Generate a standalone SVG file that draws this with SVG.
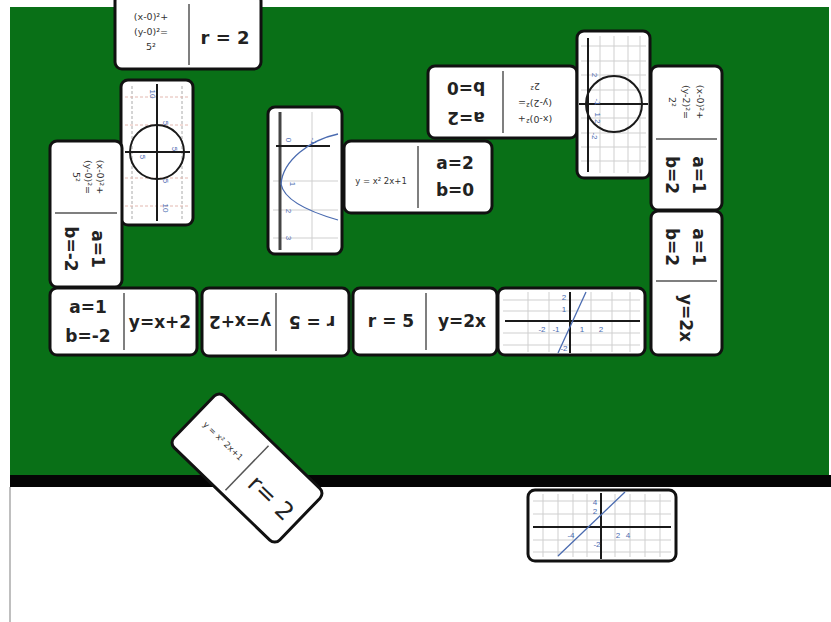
<svg xmlns="http://www.w3.org/2000/svg" width="831" height="622" viewBox="0 0 831 622">
<defs>
<style>
.dom{fill:#fff;stroke:#111;stroke-width:3}
.dv{stroke:#555;stroke-width:1.5}
.t{font-family:"DejaVu Sans","Open Sans",sans-serif;font-weight:700;fill:#222;text-anchor:middle}
.b{font-size:17px}
.f{font-size:9.5px;font-weight:400;fill:#333}
.gr{stroke:#cfcfcf;stroke-width:1}
.gp{stroke:#e3b8b0;stroke-width:1;stroke-dasharray:3 2}
.gd{stroke:#aaa;stroke-width:1;stroke-dasharray:3 2}
.ax{stroke:#1a1a1a;stroke-width:2}
.cur{stroke:#4a6bb0;stroke-width:1.3;fill:none}
.ring{stroke:#1a1a1a;stroke-width:2;fill:none}
.l{font-family:"Liberation Sans",Arial,sans-serif;font-size:8px;fill:#4a6bb0;text-anchor:middle}
</style>
</defs>
<rect x="0" y="0" width="831" height="622" fill="#fff"/>
<rect x="10" y="7" width="819" height="468" fill="#097017"/>
<rect x="10" y="475" width="821" height="12" fill="#050505"/>
<line x1="10" y1="487" x2="10" y2="622" stroke="#aaa" stroke-width="1.5"/>

<g id="d1">
<rect class="dom" x="115" y="-6" width="146" height="75" rx="7"/>
<line class="dv" x1="189" y1="4" x2="189" y2="65"/>
<text class="t f" x="151" y="20">(x-0)²+</text>
<text class="t f" x="151" y="35">(y-0)²=</text>
<text class="t f" x="151" y="50">5²</text>
<text class="t" style="font-size:18px" x="225" y="44">r = 2</text>
</g>

<g id="d2">
<rect class="dom" x="121" y="80" width="72" height="145" rx="7"/>
<line class="gd" x1="132" y1="86" x2="132" y2="219"/>
<line class="gd" x1="182" y1="86" x2="182" y2="219"/>
<line class="gp" x1="125" y1="97" x2="190" y2="97"/>
<line class="gp" x1="125" y1="125" x2="190" y2="125"/>
<line class="gp" x1="125" y1="178" x2="190" y2="178"/>
<line class="gp" x1="125" y1="206" x2="190" y2="206"/>
<line class="ax" x1="157" y1="84" x2="157" y2="221"/>
<line class="ax" x1="125" y1="152" x2="190" y2="152"/>
<circle class="ring" cx="157" cy="152" r="27"/>
<text class="l" transform="translate(150,94) rotate(90)">10</text>
<text class="l" transform="translate(163,123) rotate(90)">5</text>
<text class="l" transform="translate(172,149) rotate(90)">5</text>
<text class="l" transform="translate(140,157) rotate(90)">5</text>
<text class="l" transform="translate(163,181) rotate(90)">5</text>
<text class="l" transform="translate(163,208) rotate(90)">10</text>
</g>

<g id="d3">
<rect class="dom" x="50" y="141" width="72" height="146" rx="7"/>
<line class="dv" x1="55" y1="213" x2="117" y2="213"/>
<g transform="translate(88,177) rotate(90)">
<text class="t f" x="0" y="-9">(x-0)²+</text>
<text class="t f" x="0" y="3">(y-0)²=</text>
<text class="t f" x="0" y="15">5²</text>
</g>
<g transform="translate(86,249) rotate(90)">
<text class="t b" x="0" y="-6">a=1</text>
<text class="t b" x="0" y="21">b=-2</text>
</g>
</g>

<g id="d4">
<rect class="dom" x="268" y="107" width="74" height="147" rx="7"/>
<line class="gr" x1="312" y1="112" x2="312" y2="250"/>
<line class="gr" x1="273" y1="181" x2="338" y2="181"/>
<line class="gr" x1="273" y1="210" x2="338" y2="210"/>
<line class="gr" x1="273" y1="238" x2="338" y2="238"/>
<line x1="280" y1="112" x2="280" y2="250" stroke="#444" stroke-width="3"/>
<line class="ax" x1="276" y1="146" x2="330" y2="146"/>
<path class="cur" d="M338,134 C310,140 283,160 281,184 C284,200 310,212 338,220"/>
<text class="l" transform="translate(286,140) rotate(90)">0</text>
<text class="l" transform="translate(311,141) rotate(90)">-1</text>
<text class="l" transform="translate(290,184) rotate(90)">1</text>
<text class="l" transform="translate(286,211) rotate(90)">2</text>
<text class="l" transform="translate(286,238) rotate(90)">3</text>
</g>

<g id="d5">
<rect class="dom" x="344" y="141" width="148" height="72" rx="7"/>
<line class="dv" x1="418" y1="146" x2="418" y2="208"/>
<text class="t f" style="font-size:8.5px" x="381" y="184">y = x² 2x+1</text>
<text class="t b" x="455" y="169">a=2</text>
<text class="t b" x="455" y="196">b=0</text>
</g>

<g id="d6" transform="rotate(180,502.5,102)">
<rect class="dom" x="428" y="66" width="149" height="72" rx="7"/>
<line class="dv" x1="502" y1="71" x2="502" y2="133"/>
<text class="t f" x="470" y="88">(x-0)²+</text>
<text class="t f" x="470" y="104">(y-2)²=</text>
<text class="t f" x="470" y="121">2²</text>
<text class="t b" x="539" y="92">a=2</text>
<text class="t b" x="539" y="122">b=0</text>
</g>

<g id="d7">
<rect class="dom" x="577" y="31" width="73" height="147" rx="7"/>
<line class="gr" x1="600" y1="36" x2="600" y2="173"/>
<line class="gr" x1="614" y1="36" x2="614" y2="173"/>
<line class="gr" x1="628" y1="36" x2="628" y2="173"/>
<line class="gr" x1="640" y1="36" x2="640" y2="173"/>
<line class="gr" x1="581" y1="46" x2="646" y2="46"/>
<line class="gr" x1="581" y1="61" x2="646" y2="61"/>
<line class="gr" x1="581" y1="75" x2="646" y2="75"/>
<line class="gr" x1="581" y1="90" x2="646" y2="90"/>
<line class="gr" x1="581" y1="118" x2="646" y2="118"/>
<line class="gr" x1="581" y1="133" x2="646" y2="133"/>
<line class="gr" x1="581" y1="147" x2="646" y2="147"/>
<line class="gr" x1="581" y1="161" x2="646" y2="161"/>
<line class="ax" x1="588" y1="38" x2="588" y2="172"/>
<line class="ax" x1="579" y1="104" x2="648" y2="104"/>
<circle class="ring" cx="614" cy="104" r="28"/>
<text class="l" transform="translate(592,75) rotate(90)">2</text>
<text class="l" transform="translate(592,136) rotate(90)">-2</text>
<text class="l" transform="translate(595,102) rotate(90)">-1</text>
<text class="l" transform="translate(595,118) rotate(90)">1 2</text>
</g>

<g id="d8">
<rect class="dom" x="651" y="66" width="71" height="144" rx="7"/>
<line class="dv" x1="656" y1="139" x2="717" y2="139"/>
<g transform="translate(686,102) rotate(90)">
<text class="t f" x="0" y="-11">(x-0)²+</text>
<text class="t f" x="0" y="3">(y-2)²=</text>
<text class="t f" x="0" y="17">2²</text>
</g>
<g transform="translate(686,175) rotate(90)">
<text class="t b" x="0" y="-7">a=1</text>
<text class="t b" x="0" y="20">b=2</text>
</g>
</g>

<g id="d9">
<rect class="dom" x="651" y="211" width="71" height="144" rx="7"/>
<line class="dv" x1="656" y1="281" x2="717" y2="281"/>
<g transform="translate(686,247) rotate(90)">
<text class="t b" x="0" y="-7">a=1</text>
<text class="t b" x="0" y="20">b=2</text>
</g>
<text class="t b" transform="translate(686,318) rotate(90)" x="0" y="6">y=2x</text>
</g>

<g id="d10">
<rect class="dom" x="50" y="288" width="147" height="67" rx="7"/>
<line class="dv" x1="124" y1="293" x2="124" y2="350"/>
<text class="t b" x="88" y="313">a=1</text>
<text class="t b" x="88" y="342">b=-2</text>
<text class="t b" x="160" y="328">y=x+2</text>
</g>

<g id="d11" transform="rotate(180,275.5,322)">
<rect class="dom" x="202" y="288" width="147" height="68" rx="7"/>
<line class="dv" x1="275" y1="293" x2="275" y2="351"/>
<text class="t b" x="239" y="328">r = 5</text>
<text class="t b" x="311" y="328">y=x+2</text>
</g>

<g id="d12">
<rect class="dom" x="353" y="288" width="144" height="67" rx="7"/>
<line class="dv" x1="426" y1="293" x2="426" y2="350"/>
<text class="t b" x="391" y="327">r = 5</text>
<text class="t b" x="462" y="327">y=2x</text>
</g>

<g id="d13">
<rect class="dom" x="498" y="288" width="147" height="67" rx="7"/>
<line class="gr" x1="528" y1="292" x2="528" y2="352"/>
<line class="gr" x1="549" y1="292" x2="549" y2="352"/>
<line class="gr" x1="591" y1="292" x2="591" y2="352"/>
<line class="gr" x1="612" y1="292" x2="612" y2="352"/>
<line class="gr" x1="630" y1="292" x2="630" y2="352"/>
<line class="gr" x1="503" y1="300" x2="640" y2="300"/>
<line class="gr" x1="503" y1="311" x2="640" y2="311"/>
<line class="gr" x1="503" y1="333" x2="640" y2="333"/>
<line class="gr" x1="503" y1="345" x2="640" y2="345"/>
<line class="ax" x1="505" y1="321" x2="640" y2="321"/>
<line class="ax" x1="570" y1="292" x2="570" y2="353"/>
<line class="cur" x1="558" y1="353" x2="586" y2="292"/>
<text class="l" x="564" y="300">2</text>
<text class="l" x="564" y="312">1</text>
<text class="l" x="542" y="332">-2</text>
<text class="l" x="556" y="332">-1</text>
<text class="l" x="582" y="332">1</text>
<text class="l" x="601" y="332">2</text>
<text class="l" x="564" y="351">-2</text>
</g>

<g id="d14" transform="rotate(44,247,468)">
<rect class="dom" x="173.5" y="432" width="147" height="72" rx="7"/>
<line class="dv" x1="247" y1="437" x2="247" y2="499"/>
<text class="t f" style="font-size:8.5px" x="211" y="468">y = x² 2x+1</text>
<text class="t" style="font-size:24px;font-weight:400" x="285" y="481">r= 2</text>
</g>

<g id="d15">
<rect class="dom" x="528" y="490" width="148" height="71" rx="7"/>
<line class="gr" x1="543" y1="494" x2="543" y2="557"/>
<line class="gr" x1="558" y1="494" x2="558" y2="557"/>
<line class="gr" x1="573" y1="494" x2="573" y2="557"/>
<line class="gr" x1="587" y1="494" x2="587" y2="557"/>
<line class="gr" x1="615" y1="494" x2="615" y2="557"/>
<line class="gr" x1="630" y1="494" x2="630" y2="557"/>
<line class="gr" x1="645" y1="494" x2="645" y2="557"/>
<line class="gr" x1="660" y1="494" x2="660" y2="557"/>
<line class="gr" x1="533" y1="501" x2="671" y2="501"/>
<line class="gr" x1="533" y1="514" x2="671" y2="514"/>
<line class="gr" x1="533" y1="540" x2="671" y2="540"/>
<line class="gr" x1="533" y1="552" x2="671" y2="552"/>
<line class="ax" x1="533" y1="527" x2="671" y2="527"/>
<line class="ax" x1="601" y1="493" x2="601" y2="559"/>
<line class="cur" x1="558" y1="556" x2="625" y2="492"/>
<text class="l" x="595" y="505">4</text>
<text class="l" x="595" y="514">2</text>
<text class="l" x="571" y="538">-4</text>
<text class="l" x="597" y="547">-2</text>
<text class="l" x="618" y="538">2</text>
<text class="l" x="628" y="538">4</text>
</g>
</svg>
